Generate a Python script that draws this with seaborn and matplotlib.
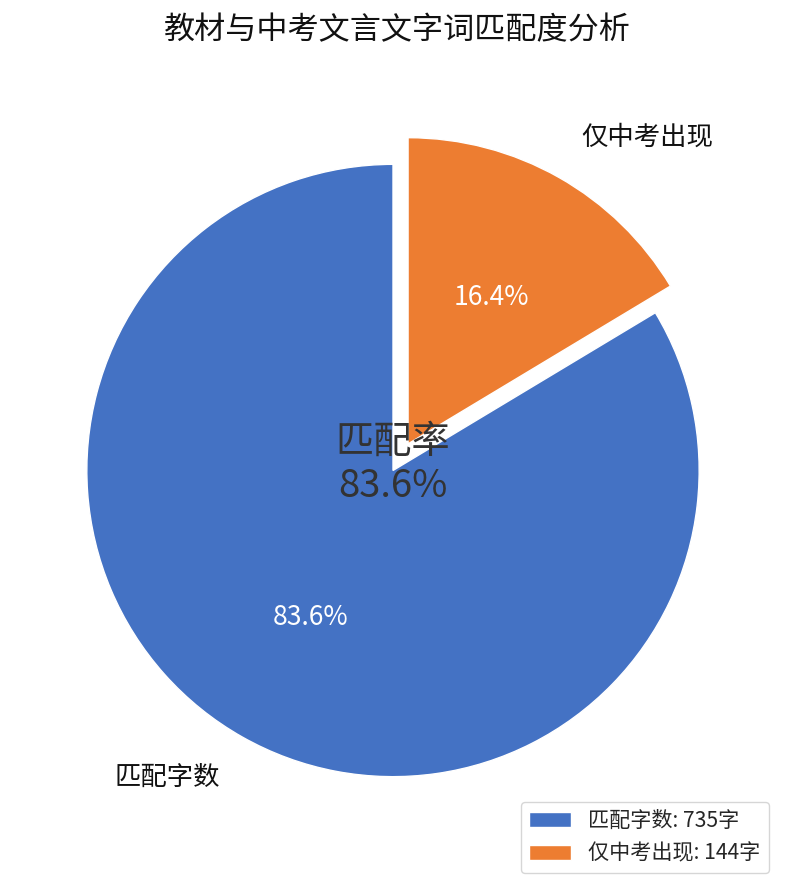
import matplotlib
matplotlib.use("Agg")
import matplotlib.pyplot as plt
import seaborn as sns

categories = ["匹配字数", "仅中考出现"]
counts = [735, 144]
legend_labels = ["匹配字数: 735字", "仅中考出现: 144字"]
colors = ["#4472C4", "#ED7D31"]
explode = [0, 0.1]
title = "教材与中考文言文字词匹配度分析"
center_text = "匹配率\n83.6%"

sns.set_theme(style="white")
plt.rcParams['font.family'] = ['Noto Sans CJK SC', 'DejaVu Sans']

fig = plt.figure(figsize=(7.94, 8.88), dpi=100)
w = 0.964
h = w * 794 / 888
cx, cy = 393 / 794, 1 - 470.5 / 888
ax = fig.add_axes([cx - w / 2, cy - h / 2, w, h])

wedges, texts, autotexts = ax.pie(
    counts, labels=categories, colors=colors, explode=explode,
    startangle=90, counterclock=True, autopct='%1.1f%%', pctdistance=0.55,
    labeldistance=1.15, textprops={'fontsize': 19, 'color': '#111111'})
for t in autotexts:
    t.set_color('white')
    t.set_fontsize(19)
ax.set_aspect('equal')
ax.text(0, 0.02, center_text, ha='center', va='center', fontsize=27.5,
        color='#333333', linespacing=1.2)

fig.text(0.5, 1 - 31 / 888, title, ha='center', va='center', fontsize=22.4,
         color='#111111')

fig.legend(wedges, legend_labels, loc='lower right',
           bbox_to_anchor=(769 / 794, 15 / 888), borderaxespad=0,
           fontsize=15.2, frameon=True, fancybox=True, edgecolor='#cccccc')

fig.savefig("out.png", dpi=100)
